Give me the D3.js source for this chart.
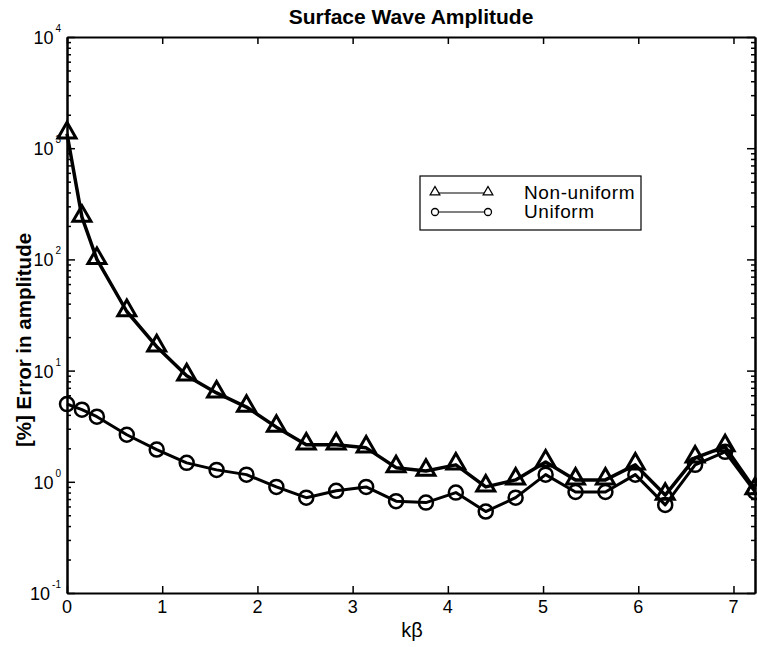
<!DOCTYPE html>
<html>
  <head>
    <meta charset="UTF-8" />
    <script src="https://d3js.org/d3.v7.min.js"></script>
    <style>
      body { margin: 0; background: #fff; }
      text { font-family: Arial, "Liberation Sans", Helvetica, sans-serif; }
    </style>
  </head>
  <body>
    <div id="my_dataviz"></div>

    <script>
      // k*beta sample points (multiples of pi/10, plus pi/20)
      var kb = [0, 0.157, 0.314, 0.628, 0.942, 1.257, 1.571, 1.885, 2.199, 2.513,
        2.827, 3.142, 3.456, 3.770, 4.084, 4.398, 4.712, 5.027, 5.341, 5.655,
        5.969, 6.283, 6.597, 6.912, 7.226];
      var nonUniform = [1350, 240, 100, 34, 16.4, 9.0, 6.3, 4.7, 3.1, 2.15,
        2.15, 2.02, 1.34, 1.25, 1.42, 0.9, 1.04, 1.51, 1.04, 1.04,
        1.42, 0.76, 1.64, 2.07, 0.85];
      var uniform = [5.0, 4.45, 3.85, 2.65, 1.95, 1.48, 1.28, 1.16, 0.9, 0.72,
        0.83, 0.9, 0.67, 0.65, 0.8, 0.54, 0.72, 1.16, 0.81, 0.81,
        1.16, 0.62, 1.42, 1.86, 0.81];
      var xTicks = [0, 1, 2, 3, 4, 5, 6, 7];
      var yExps = [-1, 0, 1, 2, 3, 4];
      var seriesNames = ["Non-uniform", "Uniform"];

      var width = 757, height = 647;
      var mLeft = 67, mRight = 755, mTop = 37, mBottom = 593;

      var svg = d3
        .select("#my_dataviz")
        .append("svg")
        .attr("width", width)
        .attr("height", height);

      var x = d3.scaleLinear().domain([0, 7.226]).range([mLeft, mRight]);
      var y = d3.scaleLog().domain([0.1, 10000]).range([mBottom, mTop]);

      // minor log ticks
      var minor = [];
      yExps.slice(0, -1).forEach(function (e) {
        for (var m = 2; m < 10; m++) minor.push(m * Math.pow(10, e));
      });
      var major = yExps.map(function (e) { return Math.pow(10, e); });

      function yAxis(g, gen) {
        g.call(gen(y).tickValues(minor).tickSizeInner(-4).tickSizeOuter(0).tickFormat(""));
        g.append("g").call(gen(y).tickValues(major).tickSizeInner(-8).tickSizeOuter(0).tickFormat(""));
      }

      var gl = svg.append("g").attr("transform", "translate(" + mLeft + ",0)");
      yAxis(gl, d3.axisLeft);
      var gr = svg.append("g").attr("transform", "translate(" + mRight + ",0)");
      yAxis(gr, d3.axisRight);

      svg.append("g").attr("transform", "translate(0," + mBottom + ")")
        .call(d3.axisBottom(x).tickValues(xTicks).tickSizeInner(-7).tickSizeOuter(0).tickFormat(""));
      svg.append("g").attr("transform", "translate(0," + mTop + ")")
        .call(d3.axisTop(x).tickValues(xTicks).tickSizeInner(-7).tickSizeOuter(0).tickFormat(""));

      svg.selectAll(".domain").attr("stroke", "#000").attr("stroke-width", 2);
      svg.selectAll(".tick line").attr("stroke", "#000").attr("stroke-width", 1.5);

      // tick labels
      svg.append("g").selectAll("text").data(xTicks).join("text")
        .attr("x", function (d) { return x(d); })
        .attr("y", mBottom + 20)
        .attr("text-anchor", "middle")
        .attr("font-size", 18)
        .text(function (d) { return d; });

      var yl = svg.append("g").selectAll("text").data(yExps).join("text")
        .attr("x", mLeft - 6)
        .attr("y", function (d) { return y(Math.pow(10, d)) + 7; })
        .attr("text-anchor", "end")
        .attr("font-size", 18);
      yl.append("tspan").text("10");
      yl.append("tspan").attr("dy", -12).attr("dx", 2).attr("font-size", 10)
        .text(function (d) { return d; });

      // series
      var line = d3.line()
        .x(function (d, i) { return x(kb[i]); })
        .y(function (d) { return y(d); });

      svg.append("path").datum(nonUniform)
        .attr("fill", "none").attr("stroke", "#000").attr("stroke-width", 3.5)
        .attr("stroke-linejoin", "round")
        .attr("d", line);
      svg.append("path").datum(uniform)
        .attr("fill", "none").attr("stroke", "#000").attr("stroke-width", 3)
        .attr("stroke-linejoin", "round")
        .attr("d", line);

      var tri = d3.symbol().type(d3.symbolTriangle).size(140);

      svg.append("g").selectAll("path").data(nonUniform).join("path")
        .attr("transform", function (d, i) { return "translate(" + x(kb[i]) + "," + (y(d) - 1) + ")"; })
        .attr("d", tri)
        .attr("fill", "none").attr("stroke", "#000").attr("stroke-width", 3);

      svg.append("g").selectAll("circle").data(uniform).join("circle")
        .attr("cx", function (d, i) { return x(kb[i]); })
        .attr("cy", function (d) { return y(d); })
        .attr("r", 7)
        .attr("fill", "none").attr("stroke", "#000").attr("stroke-width", 2.5);

      // legend
      var lg = svg.append("g");
      lg.append("rect").attr("x", 420).attr("y", 176).attr("width", 221).attr("height", 54)
        .attr("fill", "#fff").attr("stroke", "#000").attr("stroke-width", 1.2);
      [193, 212].forEach(function (ly, i) {
        lg.append("line").attr("x1", 435).attr("x2", 488).attr("y1", ly).attr("y2", ly)
          .attr("stroke", "#000").attr("stroke-width", 1);
        [435, 488].forEach(function (lx) {
          if (i === 0) {
            lg.append("path").attr("transform", "translate(" + lx + "," + (ly - 1) + ")")
              .attr("d", d3.symbol().type(d3.symbolTriangle).size(40))
              .attr("fill", "#fff").attr("stroke", "#000").attr("stroke-width", 1.3);
          } else {
            lg.append("circle").attr("cx", lx).attr("cy", ly).attr("r", 3.5)
              .attr("fill", "#fff").attr("stroke", "#000").attr("stroke-width", 1.3);
          }
        });
        lg.append("text").attr("x", 524).attr("y", ly + 6).attr("font-size", 19)
          .attr("letter-spacing", 0.6)
          .text(seriesNames[i]);
      });

      // titles
      svg.append("text").attr("x", (mLeft + mRight) / 2).attr("y", 24)
        .attr("text-anchor", "middle").attr("font-size", 21).attr("font-weight", "bold")
        .text("Surface Wave Amplitude");
      svg.append("text").attr("x", 412).attr("y", 637)
        .attr("text-anchor", "middle").attr("font-size", 20)
        .text("kβ");
      svg.append("text")
        .attr("transform", "translate(31,340) rotate(-90)")
        .attr("text-anchor", "middle").attr("font-size", 20.5).attr("font-weight", "bold")
        .text("[%] Error in amplitude");
    </script>
  </body>
</html>
